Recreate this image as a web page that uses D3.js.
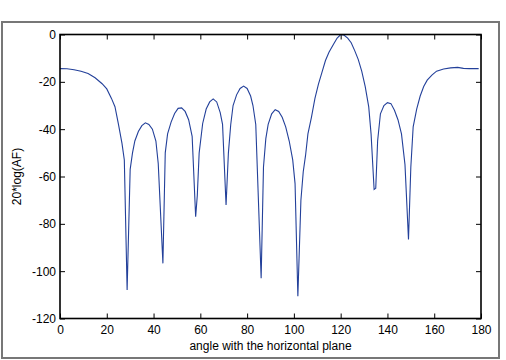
<!DOCTYPE html>
<meta charset="utf-8">
<style>
body { margin: 0; background: #fff; }
svg text { font-family: "Liberation Sans", Arial, sans-serif; fill: #000; }
.frame { fill: none; stroke: #777; stroke-width: 2px; }
.curve { fill: none; stroke: #23409a; stroke-width: 1.1px; }
</style>
<svg width="506" height="360"></svg>
<script src="https://d3js.org/d3.v7.min.js"></script>
<script>

// angle (deg) and 20*log(AF) values
var angles = [0, 3, 6, 9, 12, 15, 18, 20, 22, 23.5, 25, 26.5, 27.5, 28.7, 30, 31, 32, 33.5, 35, 36.5,
  38, 39.5, 41, 42, 44, 45, 46, 47.5, 49, 50.5, 52, 53.5, 55, 56.5, 58, 58.7, 59.5, 61, 62.5, 64,
  65.5, 67, 68.5, 69.5, 71, 72, 73, 74, 75.5, 77, 78.5, 80, 81.5, 82.5, 83.7, 86, 87, 88, 89, 90.5,
  92, 93.5, 95, 96.5, 98, 99.5, 100.5, 101.7, 103, 104, 105, 106, 107.5, 109, 110.5, 112, 113.5, 115, 117, 118.5,
  120, 121.5, 123, 124.5, 126, 127.5, 129, 130.5, 132, 133, 134.3, 135, 135.8, 137, 138.5, 140, 141.5, 143, 144.5, 146,
  147.5, 149, 150, 151, 152.5, 154, 155.5, 157, 159, 161, 164, 167, 170, 172.5, 175, 179];
var afdb = [-14.4, -14.5, -14.9, -15.5, -16.5, -18.3, -20.8, -23, -27, -30.5, -38, -46, -53, -108, -57, -50, -45, -41, -38.5, -37.3,
  -38, -40, -45, -54.5, -96.7, -50, -42, -37, -33.4, -31.2, -31, -32.5, -36, -43, -77, -68, -50, -37.6, -31.5, -28.5,
  -27.2, -28.5, -33, -38, -72, -50, -38, -30, -25.5, -22.8, -21.8, -22.8, -26, -30, -38, -103, -56, -44, -38, -33.5,
  -31.8, -32.5, -35, -39, -45, -53, -63, -110.6, -70, -58, -51, -42, -35, -27, -21, -16, -11, -7.5, -4, -1.5,
  0, -0.3, -1.5, -3.5, -6.8, -10.5, -15.5, -22, -30.6, -42, -65.5, -65, -45, -33.5, -30, -28.8, -29.2, -32, -36, -42,
  -55, -86.6, -56, -39, -31.5, -26, -22, -19.3, -17.2, -15.5, -14.6, -14.1, -13.9, -14.3, -14.4, -14.4];

var xTicks = [0, 20, 40, 60, 80, 100, 120, 140, 160, 180];
var yTicks = [0, -20, -40, -60, -80, -100, -120];

var svg = d3.select("svg");
var plotL = 60, plotR = 481, plotT = 34.5, plotB = 318.5;

svg.append("rect").attr("class", "frame")
    .attr("x", 2).attr("y", 22).attr("width", 497).attr("height", 336);

var x = d3.scaleLinear().domain([0, 180]).range([plotL, plotR]);
var y = d3.scaleLinear().domain([-120, 0]).range([plotB, plotT]);

var tickLen = 5;

// plain hyphen minus, like the original plot
var fmt = function(d) { return String(d); };

svg.append("g")
    .attr("transform", "translate(0," + plotB + ")")
    .call(d3.axisBottom(x).tickValues(xTicks).tickSize(-tickLen).tickPadding(7).tickFormat(fmt))
    .call(function(g) { g.select(".domain").remove(); });
svg.append("g")
    .attr("transform", "translate(0," + plotT + ")")
    .call(d3.axisTop(x).tickValues(xTicks).tickSize(-tickLen).tickFormat(""))
    .call(function(g) { g.select(".domain").remove(); });
svg.append("g")
    .attr("transform", "translate(" + plotL + ",0)")
    .call(d3.axisLeft(y).tickValues(yTicks).tickSize(-tickLen).tickPadding(4).tickFormat(fmt))
    .call(function(g) { g.select(".domain").remove(); });
svg.append("g")
    .attr("transform", "translate(" + plotR + ",0)")
    .call(d3.axisRight(y).tickValues(yTicks).tickSize(-tickLen).tickFormat(""))
    .call(function(g) { g.select(".domain").remove(); });

svg.selectAll(".tick line").attr("stroke", "#000").attr("stroke-width", 1);
svg.selectAll(".tick text").style("font-size", "12px").attr("fill", "#000");

var line = d3.line()
    .x(function(d, i) { return x(angles[i]); })
    .y(function(d) { return y(d); });

svg.append("path").attr("class", "curve")
    .attr("d", line(afdb));

svg.append("rect")
    .attr("x", plotL).attr("y", plotT)
    .attr("width", plotR - plotL).attr("height", plotB - plotT)
    .attr("fill", "none").attr("stroke", "#000").attr("stroke-width", 1.6);

svg.append("text")
    .attr("x", (plotL + plotR) / 2).attr("y", 350)
    .attr("text-anchor", "middle")
    .style("font-size", "12px")
    .text("angle with the horizontal plane");

svg.append("text")
    .attr("transform", "translate(21," + (plotT + plotB) / 2 + ") rotate(-90)")
    .attr("text-anchor", "middle")
    .style("font-size", "12px")
    .text("20*log(AF)");

</script>
